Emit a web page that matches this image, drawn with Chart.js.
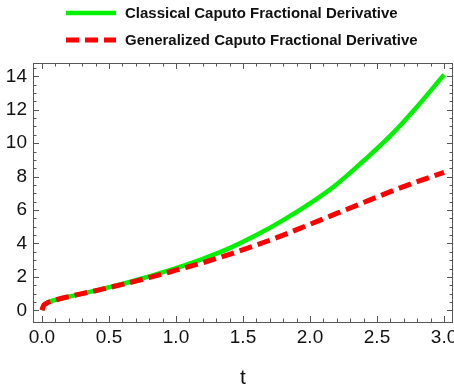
<!DOCTYPE html>
<html>
<head>
<meta charset="utf-8">
<script src="https://cdn.jsdelivr.net/npm/chart.js@4.4.1/dist/chart.umd.min.js"></script>
<style>
  html, body { margin: 0; padding: 0; background: #fff; }
  #chart { display: block; }
</style>
</head>
<body>
<canvas id="chart" width="454" height="391"></canvas>
<script>
// time samples and the two derivative solutions
const T_VALUES = [0, 0.01, 0.03, 0.06, 0.1, 0.2, 0.3, 0.4, 0.5, 0.6, 0.7, 0.8, 0.9, 1.0,
    1.2, 1.4, 1.6, 1.8, 2.0, 2.2, 2.4, 2.6, 2.8, 3.0];
const CLASSICAL = [0, 0.25, 0.4, 0.52, 0.62, 0.82, 1.0, 1.18, 1.38, 1.58, 1.8, 2.03, 2.27, 2.52,
    3.08, 3.72, 4.5, 5.4, 6.4, 7.55, 8.95, 10.45, 12.2, 14.1];
const GENERALIZED = [0, 0.25, 0.4, 0.52, 0.62, 0.82, 1.0, 1.17, 1.36, 1.55, 1.75, 1.96, 2.17, 2.4,
    2.85, 3.35, 3.9, 4.5, 5.15, 5.8, 6.45, 7.1, 7.7, 8.25];

const SERIES_LABELS = ['Classical Caputo Fractional Derivative', 'Generalized Caputo Fractional Derivative'];
const X_TICKS = [0, 0.5, 1.0, 1.5, 2.0, 2.5, 3.0];
const Y_TICKS = [0, 2, 4, 6, 8, 10, 12, 14];
const X_TITLE = 't';

function toPoints(xs, ys) {
    return xs.map((x, i) => ({ x: x, y: ys[i] }));
}

// frame, inward ticks, tick labels, axis title and the stacked legend
const framePlugin = {
    id: 'frame',
    afterDatasetsDraw(chart) {
        const ctx = chart.ctx;
        const a = chart.chartArea;
        const xs = chart.scales.x;
        const ys = chart.scales.y;
        ctx.save();
        ctx.strokeStyle = '#555';
        ctx.lineWidth = 1;
        ctx.strokeRect(a.left + 0.5, a.top + 0.5, a.right - a.left - 1, a.bottom - a.top);

        // x ticks, major every 0.5, minor every 0.1
        ctx.beginPath();
        for (let i = 0; i <= 30; i++) {
            const v = i / 10;
            const px = Math.round(xs.getPixelForValue(v)) + 0.5;
            const len = i % 5 === 0 ? 6 : 3.5;
            ctx.moveTo(px, a.bottom); ctx.lineTo(px, a.bottom - len);
            ctx.moveTo(px, a.top); ctx.lineTo(px, a.top + len);
        }
        // y ticks, major every 2, minor every 0.5
        for (let i = 0; i <= 29; i++) {
            const v = i / 2;
            const py = Math.round(ys.getPixelForValue(v)) + 0.5;
            const len = i % 4 === 0 ? 6 : 3.5;
            ctx.moveTo(a.left, py); ctx.lineTo(a.left + len, py);
            ctx.moveTo(a.right, py); ctx.lineTo(a.right - len, py);
        }
        ctx.stroke();

        ctx.fillStyle = '#111';
        ctx.font = '19px "Liberation Sans", Arial, sans-serif';
        ctx.textAlign = 'center';
        ctx.textBaseline = 'middle';
        X_TICKS.forEach(v => {
            ctx.fillText(v.toFixed(1), xs.getPixelForValue(v), a.bottom + 16);
        });
        ctx.textAlign = 'right';
        Y_TICKS.forEach(v => {
            ctx.fillText(String(v), a.left - 6, ys.getPixelForValue(v));
        });
        ctx.font = '21px "Liberation Sans", Arial, sans-serif';
        ctx.textAlign = 'center';
        ctx.fillText(X_TITLE, (a.left + a.right) / 2, 378);

        // legend
        ctx.font = 'bold 15px "Liberation Sans", Arial, sans-serif';
        ctx.textAlign = 'left';
        chart.data.datasets.forEach((ds, i) => {
            const y = 13 + i * 27;
            ctx.strokeStyle = ds.borderColor;
            ctx.lineWidth = ds.borderWidth;
            ctx.setLineDash(ds.borderDash || []);
            ctx.beginPath();
            ctx.moveTo(66, y); ctx.lineTo(116, y);
            ctx.stroke();
            ctx.setLineDash([]);
            ctx.fillStyle = '#111';
            ctx.fillText(ds.label, 125, y + 1);
        });
        ctx.restore();
    }
};

const ctx = document.getElementById('chart');
new Chart(ctx, {
    type: 'line',
    data: {
        datasets: [{
            label: SERIES_LABELS[0],
            data: toPoints(T_VALUES, CLASSICAL),
            borderColor: 'rgb(0, 242, 0)',
            borderWidth: 4.5,
            pointRadius: 0,
            cubicInterpolationMode: 'monotone',
            order: 2
        }, {
            label: SERIES_LABELS[1],
            data: toPoints(T_VALUES, GENERALIZED),
            borderColor: 'rgb(255, 0, 0)',
            borderWidth: 5,
            borderDash: [13, 6],
            pointRadius: 0,
            cubicInterpolationMode: 'monotone',
            order: 1
        }]
    },
    options: {
        responsive: false,
        animation: false,
        devicePixelRatio: 1,
        layout: { padding: { left: 0, right: 1, top: 63, bottom: 0 } },
        plugins: { legend: { display: false }, tooltip: { enabled: false } },
        scales: {
            x: {
                type: 'linear',
                min: -0.067,
                max: 3.067,
                grid: { display: false, drawTicks: false },
                border: { display: false },
                ticks: { display: false },
                afterFit(scale) { scale.height = 69; }
            },
            y: {
                min: -0.7,
                max: 14.8,
                grid: { display: false, drawTicks: false },
                border: { display: false },
                ticks: { display: false },
                afterFit(scale) { scale.width = 33; }
            }
        }
    },
    plugins: [framePlugin]
});
</script>
</body>
</html>
